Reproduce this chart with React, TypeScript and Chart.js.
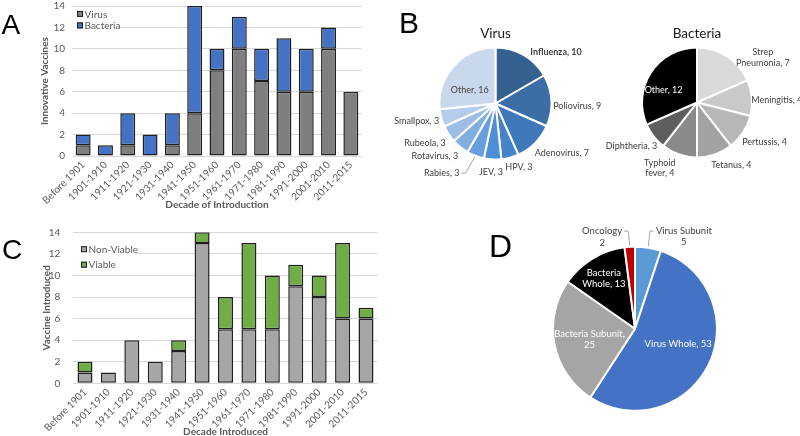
import React, { useEffect, useRef } from 'react';
import { Chart, registerables } from 'chart.js';

Chart.register(...registerables);

const FONT = 'Lato, "Open Sans", sans-serif';
const TICK = '#595959';
const GRID = '#D9D9D9';
const EDGE = '#1F1F1F';
const LABEL = '#404040';

// ---------- data ----------
const decades = [
  'Before 1901', '1901-1910', '1911-1920', '1921-1930', '1931-1940', '1941-1950',
  '1951-1960', '1961-1970', '1971-1980', '1981-1990', '1991-2000', '2001-2010', '2011-2015',
];
const innovativeVirus = [1, 0, 1, 0, 1, 4, 8, 10, 7, 6, 6, 10, 6];
const innovativeBacteria = [1, 1, 3, 2, 3, 10, 2, 3, 3, 5, 4, 2, 0];
const introducedNonViable = [1, 1, 4, 2, 3, 13, 5, 5, 5, 9, 8, 6, 6];
const introducedViable = [1, 0, 0, 0, 1, 1, 3, 8, 5, 2, 2, 7, 1];
const countAxisMax = 14;
const countAxisStep = 2;

const virusNames = ['Influenza', 'Poliovirus', 'Adenovirus', 'HPV', 'JEV', 'Rabies', 'Rotavirus', 'Rubeola', 'Smallpox', 'Other'];
const virusCounts = [10, 9, 7, 3, 3, 3, 3, 3, 3, 16];
const bacteriaNames = ['Strep Pneumonia', 'Meningitis', 'Pertussis', 'Tetanus', 'Typhoid fever', 'Diphtheria', 'Other'];
const bacteriaCounts = [7, 4, 4, 4, 4, 3, 12];
const typeNames = ['Virus Subunit', 'Virus Whole', 'Bacteria Subunit', 'Bacteria Whole', 'Oncology'];
const typeCounts = [5, 53, 25, 13, 2];

// ---------- styles ----------
const virusColors = ['#35618F', '#3B6EA6', '#3F79B9', '#4584C9', '#4C8FD6', '#689EDB', '#82AEE0', '#9CBEE6', '#B3CCEB', '#CAD8EE'];
const bacteriaColors = ['#D9D9D9', '#C9C9C9', '#B7B7B7', '#A2A2A2', '#8A8A8A', '#5E5E5E', '#000000'];
const typeColors = ['#5B9BD5', '#4472C4', '#A5A5A5', '#000000', '#C00000'];

type LabelLayout = { nudge: number; dist: number; split: string; color: string; bold?: boolean; leader?: boolean };

const virusLabelLayout: LabelLayout[] = [
  { nudge: 19.6, dist: 1.42, split: 'one', color: LABEL, bold: true },
  { nudge: 4.8, dist: 1.46, split: 'one', color: LABEL },
  { nudge: -8.2, dist: 1.48, split: 'one', color: LABEL },
  { nudge: -5.2, dist: 1.21, split: 'one', color: LABEL },
  { nudge: 0.8, dist: 1.22, split: 'one', color: LABEL },
  { nudge: 16.7, dist: 1.57, split: 'one', color: LABEL, leader: true },
  { nudge: 10.2, dist: 1.43, split: 'one', color: LABEL },
  { nudge: 3.9, dist: 1.44, split: 'one', color: LABEL },
  { nudge: 2.7, dist: 1.44, split: 'one', color: LABEL },
  { nudge: -13.9, dist: 0.52, split: 'one', color: LABEL },
];
const bacteriaLabelLayout: LabelLayout[] = [
  { nudge: 22.5, dist: 1.45, split: 'word', color: LABEL },
  { nudge: 2.9, dist: 1.45, split: 'one', color: LABEL },
  { nudge: -3.1, dist: 1.42, split: 'one', color: LABEL },
  { nudge: -9.8, dist: 1.30, split: 'one', color: LABEL },
  { nudge: 10.6, dist: 1.37, split: 'word', color: LABEL },
  { nudge: 4.2, dist: 1.43, split: 'one', color: LABEL },
  { nudge: -12.2, dist: 0.65, split: 'one', color: '#FFFFFF' },
];
const typeLabelLayout: LabelLayout[] = [
  { nudge: 18.8, dist: 1.27, split: 'value', color: LABEL, leader: true },
  { nudge: -5.9, dist: 0.56, split: 'one', color: '#FFFFFF' },
  { nudge: -2.3, dist: 0.57, split: 'comma', color: '#FFFFFF' },
  { nudge: -0.6, dist: 0.72, split: 'word', color: '#FFFFFF' },
  { nudge: -16.0, dist: 1.19, split: 'value', color: LABEL, leader: true },
];

function splitLabel(name: string, value: number, mode: string): string[] {
  if (mode === 'value') return [name, String(value)];
  if (mode === 'comma') return [name + ',', String(value)];
  if (mode === 'word') {
    const i = name.indexOf(' ');
    if (i > 0) return [name.slice(0, i), name.slice(i + 1) + ', ' + value];
  }
  return [name + ', ' + value];
}

// ---------- plugins ----------
function boxLegend(cfg: { dx: number; dy: number; gap: number; coverW: number; coverTop: number; coverH: number }) {
  return {
    id: 'boxLegend',
    afterDatasetsDraw(chart: any) {
      const { ctx, chartArea } = chart;
      const x0 = chartArea.left + cfg.dx;
      const y0 = chartArea.top + cfg.dy;
      const s = 6;
      ctx.save();
      ctx.fillStyle = '#FFFFFF';
      ctx.fillRect(chartArea.left, chartArea.top + cfg.coverTop, cfg.coverW, cfg.coverH);
      chart.data.datasets.forEach((ds: any, i: number) => {
        const y = y0 + i * cfg.gap;
        ctx.fillStyle = ds.backgroundColor;
        ctx.fillRect(x0, y - s / 2, s, s);
        ctx.strokeStyle = EDGE;
        ctx.lineWidth = 1;
        ctx.strokeRect(x0 + 0.5, y - s / 2 + 0.5, s - 1, s - 1);
        ctx.fillStyle = TICK;
        ctx.font = `10px ${FONT}`;
        ctx.textAlign = 'left';
        ctx.textBaseline = 'middle';
        ctx.fillText(ds.label, x0 + s + 1.5, y + 0.5);
      });
      ctx.restore();
    },
  };
}

function pieLabels(cfg: { layout: LabelLayout[]; size: number; title?: string; titleGap?: number }) {
  return {
    id: 'pieLabels',
    afterDatasetsDraw(chart: any) {
      const { ctx } = chart;
      const meta = chart.getDatasetMeta(0);
      const names = chart.data.labels;
      const values = chart.data.datasets[0].data;
      ctx.save();
      ctx.textAlign = 'center';
      ctx.textBaseline = 'middle';
      meta.data.forEach((arc: any, i: number) => {
        const { x, y, startAngle, endAngle, outerRadius } = arc.getProps(['x', 'y', 'startAngle', 'endAngle', 'outerRadius'], true);
        const L = cfg.layout[i];
        const mid = (startAngle + endAngle) / 2;
        const a = mid + (L.nudge * Math.PI) / 180;
        const cx = x + Math.cos(a) * outerRadius * L.dist;
        const cy = y + Math.sin(a) * outerRadius * L.dist;
        const lines = splitLabel(names[i], values[i], L.split);
        ctx.font = `${L.bold ? 'bold ' : ''}${cfg.size}px ${FONT}`;
        ctx.fillStyle = L.color;
        const lh = cfg.size * 1.2;
        const top = cy - ((lines.length - 1) * lh) / 2;
        lines.forEach((t, k) => ctx.fillText(t, cx, top + k * lh));
        if (L.leader) {
          const px = x + Math.cos(mid) * outerRadius * 1.02;
          const py = y + Math.sin(mid) * outerRadius * 1.02;
          const w1 = ctx.measureText(lines[0]).width;
          const dir = px > cx ? 1 : -1;
          const sx = cx + dir * (w1 / 2 + 2);
          ctx.strokeStyle = '#A6A6A6';
          ctx.lineWidth = 1;
          ctx.beginPath();
          ctx.moveTo(sx, top);
          ctx.lineTo(sx + dir * 4, top);
          ctx.lineTo(px, py);
          ctx.stroke();
        }
      });
      if (cfg.title) {
        const arc0 = meta.data[0];
        ctx.font = `13.5px ${FONT}`;
        ctx.fillStyle = '#1A1A1A';
        ctx.fillText(cfg.title, arc0.x, arc0.y - arc0.outerRadius - (cfg.titleGap || 0));
      }
      ctx.restore();
    },
  };
}

// ---------- configs ----------
function barConfig(o: any) {
  const ds = (label: string, data: number[], color: string) => ({
    label,
    data,
    backgroundColor: color,
    borderColor: EDGE,
    borderWidth: 1.5,
    borderSkipped: false,
    barPercentage: o.barPct,
    categoryPercentage: 1,
  });
  return {
    type: 'bar',
    data: {
      labels: decades,
      datasets: [ds(o.names[0], o.series[0], o.colors[0]), ds(o.names[1], o.series[1], o.colors[1])],
    },
    options: {
      responsive: false,
      animation: false,
      events: [],
      layout: { padding: o.padding },
      plugins: { legend: { display: false }, tooltip: { enabled: false } },
      scales: {
        x: {
          stacked: true,
          grid: { display: false, drawTicks: false },
          border: { display: false },
          ticks: { color: TICK, font: { size: 10, family: FONT }, minRotation: 45, maxRotation: 45, autoSkip: false, padding: 3 },
          title: { display: true, text: o.xTitle, color: TICK, font: { size: 10, weight: 'bold', family: FONT }, padding: { top: 0, bottom: o.xTitlePad } },
          afterFit: (s: any) => { s.height = o.xHeight; },
        },
        y: {
          stacked: true,
          min: 0,
          max: countAxisMax,
          ticks: { stepSize: countAxisStep, color: TICK, font: { size: 10, family: FONT }, padding: o.yTickPad },
          grid: { color: GRID, drawTicks: false, lineWidth: 1 },
          border: { display: false },
          title: { display: true, text: o.yTitle, color: TICK, font: { size: 10, weight: 'bold', family: FONT }, padding: { top: 4, bottom: 0 } },
          afterFit: (s: any) => {
            s.width = o.yWidth;
            s.paddingTop = 0;
            s.paddingBottom = 0;
          },
        },
      },
    },
    plugins: [boxLegend(o.legend)],
  };
}

function pieConfig(labels: string[], values: number[], colors: string[], padding: any, labelCfg: any) {
  return {
    type: 'pie',
    data: {
      labels,
      datasets: [{
        data: values,
        backgroundColor: colors,
        borderColor: '#FFFFFF',
        borderWidth: 2,
        hoverBorderWidth: 2,
        hoverOffset: 0,
        offset: 0,
      }],
    },
    options: {
      responsive: false,
      animation: false,
      events: [],
      layout: { padding },
      plugins: { legend: { display: false }, tooltip: { enabled: false } },
    },
    plugins: [pieLabels(labelCfg)],
  };
}

function ChartCanvas({ left, top, width, height, make }: { left: number; top: number; width: number; height: number; make: () => any }) {
  const ref = useRef<HTMLCanvasElement>(null);
  useEffect(() => {
    const chart = new Chart(ref.current as HTMLCanvasElement, make());
    return () => chart.destroy();
  }, []);
  return (
    <canvas
      ref={ref}
      width={width}
      height={height}
      style={{ position: 'absolute', left, top, width, height }}
    />
  );
}

function PanelLetter({ text, left, baseline, size }: { text: string; left: number; baseline: number; size: number }) {
  return (
    <div
      style={{
        position: 'absolute',
        left,
        top: baseline - size * 0.8465,
        fontFamily: '"Liberation Sans", Arial, sans-serif',
        fontSize: size,
        lineHeight: `${size}px`,
        color: '#000',
      }}
    >
      {text}
    </div>
  );
}

export default function App() {
  useEffect(() => {
    document.body.style.margin = '0';
  }, []);
  return (
    <div style={{ position: 'fixed', left: 0, top: 0, width: 800, height: 436, background: '#fff', overflow: 'hidden' }}>
      <ChartCanvas
        left={0} top={0} width={395} height={218}
        make={() => barConfig({
          names: ['Virus', 'Bacteria'],
          series: [innovativeVirus, innovativeBacteria],
          colors: ['#7F7F7F', '#4472C4'],
          barPct: 0.67,
          padding: { left: 35, right: 33, top: 6, bottom: 3 },
          xTitle: 'Decade of Introduction',
          yTitle: 'Innovative Vaccines',
          xHeight: 59,
          xTitlePad: 4,
          yWidth: 37,
          yTickPad: 7,
          legend: { dx: 5, dy: 7.9, gap: 11.5, coverW: 43, coverTop: 3, coverH: 23 },
        })}
      />
      <ChartCanvas
        left={0} top={218} width={395} height={222}
        make={() => barConfig({
          names: ['Non-Viable', 'Viable'],
          series: [introducedNonViable, introducedViable],
          colors: ['#A6A6A6', '#70AD47'],
          barPct: 0.64,
          padding: { left: 36.5, right: 17.3, top: 14.3, bottom: 2.3 },
          xTitle: 'Decade Introduced',
          yTitle: 'Vaccine Introduced',
          xHeight: 54.4,
          xTitlePad: 0,
          yWidth: 36.8,
          yTickPad: 13,
          legend: { dx: 7.7, dy: 16.9, gap: 15.5, coverW: 62, coverTop: 7.7, coverH: 32 },
        })}
      />
      <ChartCanvas
        left={390} top={0} width={220} height={218}
        make={() => pieConfig(virusNames, virusCounts, virusColors,
          { left: 48.5, right: 57.5, top: 46.5, bottom: 57.5 },
          { layout: virusLabelLayout, size: 9, title: 'Virus', titleGap: 13.5 })}
      />
      <ChartCanvas
        left={600} top={0} width={200} height={218}
        make={() => pieConfig(bacteriaNames, bacteriaCounts, bacteriaColors,
          { left: 41, right: 47, top: 46.5, bottom: 59.5 },
          { layout: bacteriaLabelLayout, size: 9, title: 'Bacteria', titleGap: 13.5 })}
      />
      <ChartCanvas
        left={400} top={218} width={400} height={218}
        make={() => pieConfig(typeNames, typeCounts, typeColors,
          { left: 152, right: 82, top: 27.7, bottom: 24.3 },
          { layout: typeLabelLayout, size: 9.5 })}
      />
      <PanelLetter text="A" left={1.5} baseline={35} size={28} />
      <PanelLetter text="B" left={399} baseline={33.3} size={30} />
      <PanelLetter text="C" left={2} baseline={260} size={28} />
      <PanelLetter text="D" left={489} baseline={256.7} size={32} />
    </div>
  );
}
